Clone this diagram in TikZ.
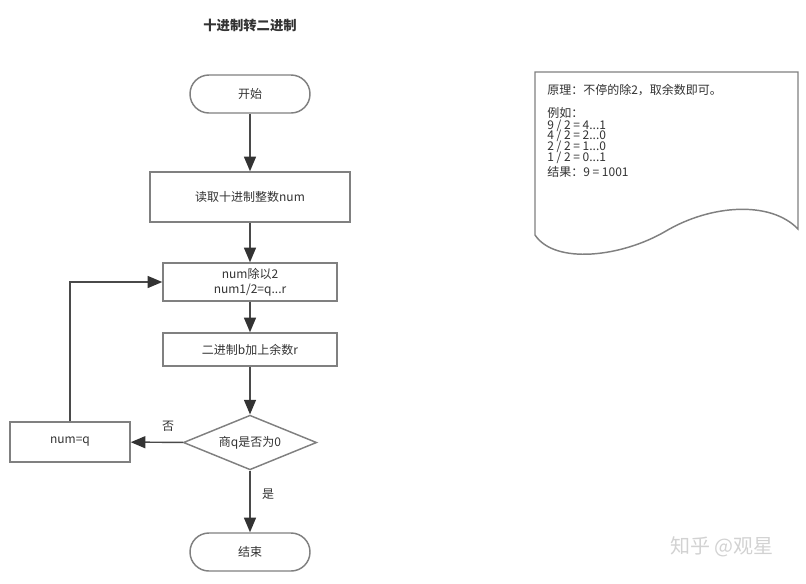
\documentclass[tikz,border=0pt]{standalone}
\usepackage{fontspec}
\setmainfont{Noto Sans CJK SC}
\usetikzlibrary{shapes.geometric,arrows.meta}
\definecolor{boxgray}{HTML}{808080}
\definecolor{linegray}{HTML}{4A4A4A}
\definecolor{txt}{HTML}{333333}
\begin{document}
\begin{tikzpicture}[x=0.75pt,y=-0.75pt,
  base/.style={draw=boxgray,line width=1.1pt,fill=white,text=txt,inner sep=1pt,
    font=\fontsize{9}{11}\selectfont,align=center},
  box/.style={base,rectangle},
  term/.style={base,rectangle,rounded corners=14.2pt,minimum width=90pt,minimum height=28.5pt},
  decision/.style={base,diamond,shape aspect=2.4,inner sep=0pt,minimum width=100pt,minimum height=41pt},
  arr/.style={draw=linegray,line width=1.1pt,-{Triangle[length=11pt,width=9pt,color=txt]}},
  lbl/.style={text=txt,font=\fontsize{9}{11}\selectfont},
  notetxt/.style={text=txt,font=\fontsize{9}{10}\selectfont,anchor=west,inner sep=0pt}]
\useasboundingbox (0,0) rectangle (806,583);

\node[text=txt,font=\fontsize{10}{12}\selectfont\bfseries] (title) at (250,25) {十进制转二进制};

\node[term] (start) at (250,94) {开始};
\node[box,minimum width=150pt,minimum height=37.5pt] (read) at (250,197) {读取十进制整数num};
\node[box,minimum width=130.5pt,minimum height=28.5pt] (div) at (250,282) {num除以2\\num1/2=q...r};
\node[box,minimum width=130.5pt,minimum height=24.75pt] (add) at (250,349.5) {二进制b加上余数r};
\node[decision] (dec) at (250,442.5) {商q是否为0};
\node[box,minimum width=90pt,minimum height=30pt] (numq) at (70,442) {num=q};
\node[term] (end) at (250,552) {结束};

\draw[arr] (start) -- (read);
\draw[arr] (read) -- (div);
\draw[arr] (div) -- (add);
\draw[arr] (add) -- (dec);
\draw[arr] (dec) -- (numq);
\draw[arr] (numq.north) |- (div.west);
\draw[arr] (dec) -- (end);

\node[lbl] (no) at (168,426) {否};
\node[lbl] (yes) at (268,494) {是};

% note (document shape)
\draw[draw=boxgray,line width=1.1pt,fill=white]
  (535,72) -- (798,72) -- (798,229)
  .. controls (770,200) and (710,205) .. (666,231)
  .. controls (622,257) and (555,265) .. (535,235) -- cycle;
\node[notetxt] (n1) at (547,90) {原理：不停的除2，取余数即可。};
\node[notetxt] (n2) at (547,113) {例如：};
\node[notetxt] (n3) at (547,125.5) {9 / 2 = 4...1};
\node[notetxt] (n4) at (547,136) {4 / 2 = 2...0};
\node[notetxt] (n5) at (547,147) {2 / 2 = 1...0};
\node[notetxt] (n6) at (547,158) {1 / 2 = 0...1};
\node[notetxt] (n7) at (547,172) {结果：9 = 1001};

\node[text=gray!35,font=\fontsize{15}{17}\selectfont] (wm) at (722,547) {知乎 @观星};
\end{tikzpicture}
\end{document}
